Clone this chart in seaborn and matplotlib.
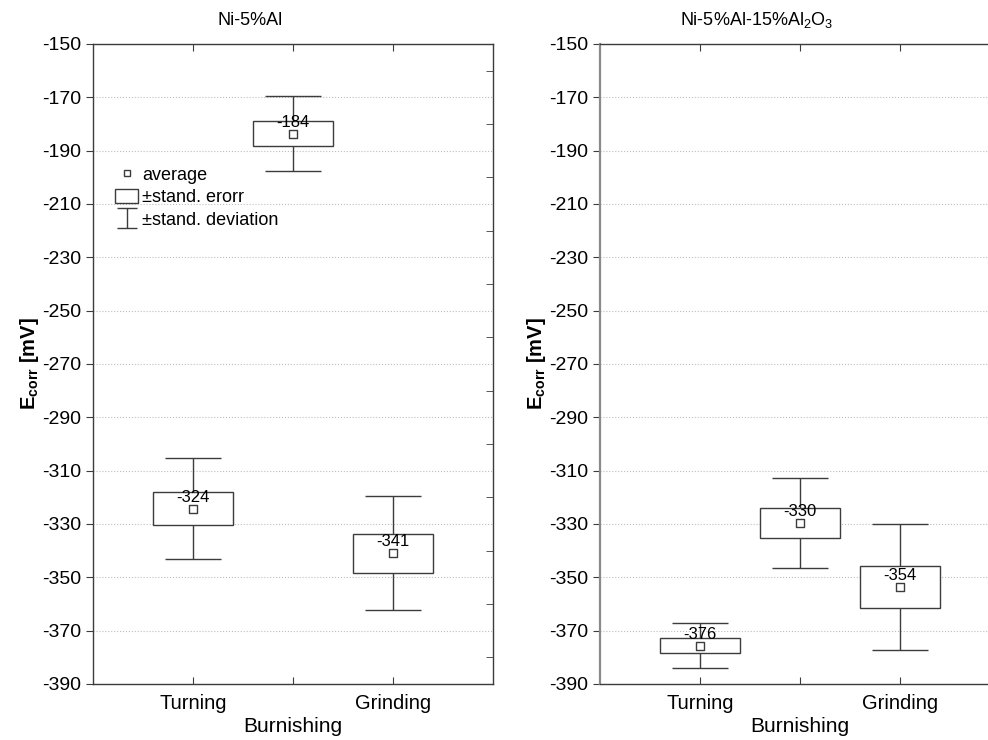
import numpy as np
import pandas as pd
import seaborn as sns
import matplotlib.pyplot as plt
from matplotlib.lines import Line2D
from matplotlib.patches import Patch
from matplotlib.path import Path
from matplotlib.ticker import FixedLocator

sns.set_style("ticks")
plt.rcParams['font.family'] = ['Liberation Sans', 'DejaVu Sans']
plt.rcParams['mathtext.fontset'] = 'custom'
plt.rcParams['mathtext.rm'] = 'Liberation Sans'
plt.rcParams['mathtext.bf'] = 'Liberation Sans:bold'
plt.rcParams['mathtext.it'] = 'Liberation Sans:italic'
plt.rcParams['axes.unicode_minus'] = False
plt.rcParams['text.color'] = 'black'
plt.rcParams['axes.labelcolor'] = 'black'

# burnishing method (middle column has no label in the original)
categories = ["Turning", "", "Grinding"]

titles = ["Ni-5%Al", r"Ni-5%Al-15%Al$_2$O$_3$"]

# Ni-5%Al
mean_a = [-324.2, -183.6, -341.0]
se_a = [6.3, 4.6, 7.2]
sd_a = [18.9, 14.0, 21.4]

# Ni-5%Al-15%Al2O3
mean_b = [-375.6, -329.6, -353.6]
se_b = [2.9, 5.7, 8.0]
sd_b = [8.4, 17.0, 23.6]

line_col = "#3c3c3c"
fig = plt.figure(figsize=(9.88, 7.4), dpi=100)
ax1 = fig.add_axes([93 / 988, 1 - 684 / 740, 400 / 988, 640 / 740])
ax2 = fig.add_axes([600 / 988, 1 - 684 / 740, 400 / 988, 640 / 740])

for ax, title, means, se, sd in [(ax1, titles[0], mean_a, se_a, sd_a),
                                 (ax2, titles[1], mean_b, se_b, sd_b)]:
    df = pd.DataFrame({"pos": np.arange(len(categories)), "mean": means,
                       "se": se, "sd": sd})
    ax.grid(axis='y', which='major', linestyle=':', color='#bdbdbd', lw=0.8, zorder=0)
    ax.errorbar(df["pos"], df["mean"], yerr=df["sd"], fmt='none', ecolor=line_col,
                elinewidth=1, capsize=20, capthick=1, zorder=2)
    ax.bar(df["pos"], 2 * df["se"], bottom=df["mean"] - df["se"], width=0.8,
           facecolor='white', edgecolor=line_col, linewidth=1, zorder=3)
    sns.scatterplot(data=df, x="pos", y="mean", marker="s", s=28, color='white',
                    edgecolor=line_col, linewidth=1, zorder=4, ax=ax)
    for _, r in df.iterrows():
        ax.annotate(f"{r['mean']:.0f}", xy=(r["pos"], r["mean"]), xytext=(0, 5),
                    textcoords='offset points', ha='center', va='baseline',
                    fontsize=12, zorder=5)

    ax.set_xlim(-1, 3)
    ax.set_ylim(-390, -150)
    ax.set_yticks(np.arange(-390, -149, 20))
    ax.yaxis.set_minor_locator(FixedLocator(np.arange(-380, -150, 20)))
    ax.tick_params(axis='y', which='major', direction='out', left=True, right=False,
                   length=5, labelsize=14, color=line_col, labelcolor='black')
    ax.tick_params(axis='y', which='minor', direction='in', left=False, right=True,
                   length=5, color=line_col)
    ax.set_xticks(df["pos"])
    ax.set_xticklabels(categories)
    ax.tick_params(axis='x', direction='in', top=True, bottom=True, length=5,
                   labelsize=14.5, pad=7, color=line_col, labelcolor='black')
    for s in ax.spines.values():
        s.set_color(line_col)
        s.set_linewidth(1)
    ax.set_xlabel("Burnishing", fontsize=15, labelpad=3)
    ax.set_ylabel(r"$\mathbf{E_{corr}}$ [mV]", fontsize=14.5, fontweight='bold', labelpad=1)
    ax.annotate(title, xy=(0.57, 1), xycoords=('data', 'axes fraction'), xytext=(0, 14),
                textcoords='offset points', ha='center', va='baseline', fontsize=13)

ax2.spines['left'].set_color('#8a8a8a')
ax2.spines['left'].set_linewidth(1.6)

ibeam = Path([(-1, 1), (1, 1), (0, 1), (0, -1), (-1, -1), (1, -1)],
             [Path.MOVETO, Path.LINETO, Path.MOVETO, Path.LINETO, Path.MOVETO, Path.LINETO])
handles = [
    Line2D([], [], marker='s', markersize=4, markerfacecolor='white',
           markeredgecolor=line_col, linestyle='none'),
    Patch(facecolor='white', edgecolor=line_col, linewidth=1),
    Line2D([], [], marker=ibeam, markersize=15, color=line_col, linestyle='none',
           markeredgewidth=1),
]
ax1.legend(handles, ["average", "±stand. erorr", "±stand. deviation"],
           loc='upper left', bbox_to_anchor=(0.055, 0.809), frameon=False,
           borderpad=0, borderaxespad=0, fontsize=13, handlelength=1.3,
           handleheight=0.85, handletextpad=0.2, labelspacing=0.28)

fig.savefig("out.png", dpi=100)
